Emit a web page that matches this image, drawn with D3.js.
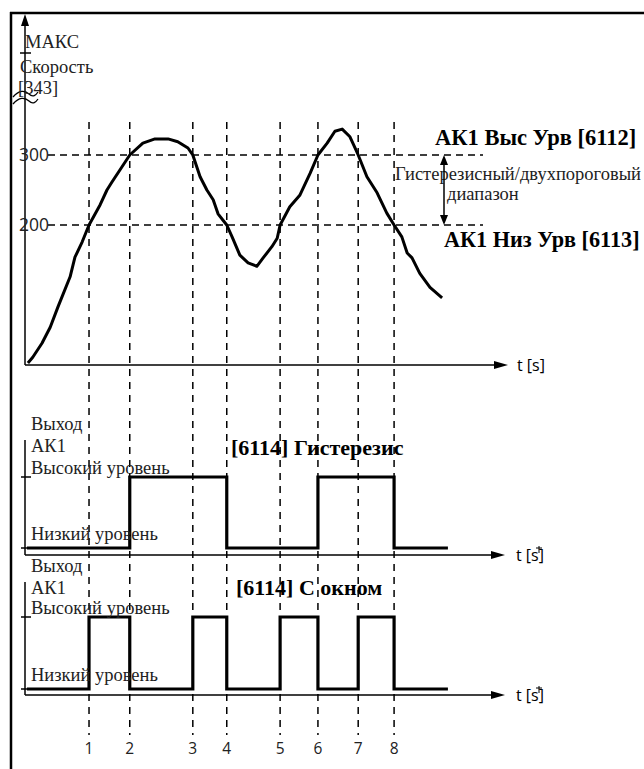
<!DOCTYPE html>
<html>
<head>
<meta charset="utf-8">
<script src="https://cdn.jsdelivr.net/npm/d3@7"></script>
<style>
  html, body { margin: 0; padding: 0; background: #fff; }
  svg { display: block; }
  .serif { font-family: "Liberation Serif", "Times New Roman", "DejaVu Serif", serif; }
  .sans { font-family: "Open Sans", "Noto Sans", sans-serif; }
</style>
</head>
<body>
<svg id="chart" width="644" height="769"></svg>
<script>
// Speed profile: time (s, arbitrary units) and speed
const speedT = [0.6, 1.6, 3.5, 5.2, 6.8, 9.3, 10.3, 11.8, 13.2, 15.5, 16.9, 17.9, 19.6, 21.6,
  24.3, 26.8, 29.5, 31.5, 33.6, 34.6, 36.1, 37.5, 38.8, 39.8, 41.6, 42.7, 44.3, 46.0, 47.8,
  49.1, 50.9, 52.0, 52.6, 54.6, 56.7, 58.8, 60.4, 62.3, 63.9, 65.4, 67.0, 68.0, 68.7, 70.5,
  72.6, 74.6, 76.1, 77.7, 78.8, 79.8, 81.4, 83.5, 86.0];
const speedV = [3, 11, 31, 54, 83, 126, 154, 176, 200, 229, 250, 261, 279, 300,
  317, 323, 323, 319, 310, 300, 269, 250, 236, 216, 200, 183, 157, 146, 141,
  153, 169, 181, 200, 226, 243, 274, 300, 317, 334, 337, 326, 311, 300, 269,
  246, 217, 200, 183, 160, 153, 131, 111, 96];

// Threshold crossings (event markers 1..8)
const eventT = [13.2, 21.6, 34.6, 41.6, 52.6, 60.4, 68.7, 76.1];
const eventLabels = ["1", "2", "3", "4", "5", "6", "7", "8"];

// Speed axis ticks and thresholds
const speedTicks = [200, 300];
const highLevel = 300;   // АК1 Выс Урв [6112]
const lowLevel = 200;    // АК1 Низ Урв [6113]
const maxSpeedLabel = ["МАКС", "Скорость", "[343]"];

// Output states between consecutive boundaries (start, events 1..8, end)
const signalStart = 0.4, signalEnd = 87.2;
const hystState = [0, 0, 1, 1, 0, 0, 1, 1, 0];
const windowState = [0, 1, 0, 1, 0, 1, 0, 1, 0];

const svg = d3.select("#chart");
const x = d3.scaleLinear().domain([0, 100]).range([25, 510]);
const axisEndX = 508;
const ySpeed = d3.scaleLinear().domain([0, 300]).range([365, 155]);
const yHyst = d3.scaleLinear().domain([0, 1]).range([548, 477]);
const yWin = d3.scaleLinear().domain([0, 1]).range([689, 617]);

const labelSize = 18.5;

// Outer frame (top and left edges)
svg.append("line").attr("x1", 10).attr("x2", 644).attr("y1", 13).attr("y2", 13)
  .attr("stroke", "#000").attr("stroke-width", 2.5);
svg.append("line").attr("x1", 11).attr("x2", 11).attr("y1", 12).attr("y2", 769)
  .attr("stroke", "#000").attr("stroke-width", 2.5);

// Vertical dashed event lines
svg.append("g").selectAll("line").data(eventT).join("line")
  .attr("x1", d => x(d)).attr("x2", d => x(d))
  .attr("y1", 122).attr("y2", 735)
  .attr("stroke", "#000").attr("stroke-width", 1.5).attr("stroke-dasharray", "7,6");

// Horizontal dashed threshold lines
svg.append("g").selectAll("line").data(speedTicks).join("line")
  .attr("x1", 48).attr("x2", 483)
  .attr("y1", d => ySpeed(d)).attr("y2", d => ySpeed(d))
  .attr("stroke", "#000").attr("stroke-width", 1.5).attr("stroke-dasharray", "7,5");

// Arrowhead helper (tip at x,y pointing in direction angle degrees)
function arrowHead(g, tx, ty, angle, len, half) {
  g.append("path")
    .attr("d", `M0,0 L${-len},${-half} L${-len},${half} Z`)
    .attr("transform", `translate(${tx},${ty}) rotate(${angle})`)
    .attr("fill", "#000");
}

// Speed chart axes
const speedPanel = svg.append("g");
speedPanel.append("line").attr("x1", x(0)).attr("x2", x(0)).attr("y1", ySpeed(0)).attr("y2", 18)
  .attr("stroke", "#000").attr("stroke-width", 1.5);
arrowHead(speedPanel, x(0), 14, -90, 12, 4);
speedPanel.append("line").attr("x1", x(0)).attr("x2", axisEndX - 10).attr("y1", ySpeed(0)).attr("y2", ySpeed(0))
  .attr("stroke", "#000").attr("stroke-width", 1.5);
arrowHead(speedPanel, axisEndX, ySpeed(0), 0, 14, 4);
speedPanel.append("text").attr("class", "sans").attr("x", 517).attr("y", ySpeed(0) + 6)
  .attr("font-size", 16).text("t [s]");

// Max tick and axis break
speedPanel.append("line").attr("x1", 20).attr("x2", 31).attr("y1", 53).attr("y2", 53)
  .attr("stroke", "#000").attr("stroke-width", 1.5);
speedPanel.append("path").attr("d", "M13,97 C19,90 25,90 29,94 C33,98 36,95 38,92")
  .attr("fill", "none").attr("stroke", "#000").attr("stroke-width", 1.3);
speedPanel.append("path").attr("d", "M13,104 C19,97 25,97 29,101 C33,105 36,102 38,99")
  .attr("fill", "none").attr("stroke", "#000").attr("stroke-width", 1.3);
const maxLabelPos = [[25, 48], [20, 73], [18, 94]];
speedPanel.selectAll("text.maxlab").data(maxSpeedLabel).join("text")
  .attr("class", "serif maxlab")
  .attr("x", (d, i) => maxLabelPos[i][0]).attr("y", (d, i) => maxLabelPos[i][1])
  .attr("font-size", labelSize).attr("fill", "#222").text(d => d);

// Speed tick labels
speedPanel.selectAll("text.tick").data(speedTicks).join("text")
  .attr("class", "sans tick")
  .attr("x", 19).attr("y", d => ySpeed(d) + 6)
  .attr("font-size", 17.5).attr("fill", "#222").text(d => d);

// Speed curve
const speedLine = d3.line().x(d => x(d[0])).y(d => ySpeed(d[1]));
speedPanel.append("path").datum(d3.zip(speedT, speedV))
  .attr("d", speedLine)
  .attr("fill", "none").attr("stroke", "#000").attr("stroke-width", 3)
  .attr("stroke-linejoin", "round");

// Threshold annotations
speedPanel.append("text").attr("class", "serif").attr("x", 435).attr("y", 145)
  .attr("font-size", 22.5).attr("font-weight", "bold").text("АК1 Выс Урв [6112]");
speedPanel.append("text").attr("class", "serif").attr("x", 444).attr("y", 247)
  .attr("font-size", 22.2).attr("font-weight", "bold").text("АК1 Низ Урв [6113]");
speedPanel.append("text").attr("class", "serif").attr("x", 395).attr("y", 180)
  .attr("font-size", labelSize).attr("fill", "#222").text("Гистерезисный/двухпороговый");
speedPanel.append("text").attr("class", "serif").attr("x", 447).attr("y", 200)
  .attr("font-size", labelSize).attr("fill", "#222").text("диапазон");
const bandX = 444;
speedPanel.append("line").attr("x1", bandX).attr("x2", bandX)
  .attr("y1", ySpeed(highLevel) + 8).attr("y2", ySpeed(lowLevel) - 8)
  .attr("stroke", "#000").attr("stroke-width", 1.5);
arrowHead(speedPanel, bandX, ySpeed(highLevel), -90, 10, 4);
arrowHead(speedPanel, bandX, ySpeed(lowLevel), 90, 10, 4);

// Output panels
function drawPanel(yScale, states, axisTop, axisY, textBase, title, titleX, titleY) {
  const g = svg.append("g");
  g.append("line").attr("x1", x(0)).attr("x2", x(0)).attr("y1", axisTop).attr("y2", axisY)
    .attr("stroke", "#000").attr("stroke-width", 1.5);
  [0, 1].forEach(s => g.append("line")
    .attr("x1", 21).attr("x2", 31).attr("y1", yScale(s)).attr("y2", yScale(s))
    .attr("stroke", "#000").attr("stroke-width", 1.5));
  g.append("line").attr("x1", x(0)).attr("x2", axisEndX - 10).attr("y1", axisY).attr("y2", axisY)
    .attr("stroke", "#000").attr("stroke-width", 1.5);
  arrowHead(g, axisEndX - 3, axisY, 0, 14, 4);
  g.append("text").attr("class", "sans").attr("x", 516).attr("y", axisY + 6)
    .attr("font-size", 16).text("t [s]");
  g.append("path").attr("d", `M539,${axisY - 9} L539,${axisY - 2} M536,${axisY - 7} L542,${axisY - 7}`)
    .attr("stroke", "#000").attr("stroke-width", 1);

  const bounds = [signalStart, ...eventT, signalEnd];
  const pts = [];
  states.forEach((s, i) => { pts.push([bounds[i], s]); pts.push([bounds[i + 1], s]); });
  g.append("path").datum(pts)
    .attr("d", d3.line().x(d => x(d[0])).y(d => yScale(d[1])))
    .attr("fill", "none").attr("stroke", "#000").attr("stroke-width", 3.2)
    .attr("stroke-linejoin", "miter");

  const labels = [["Выход", textBase], ["АК1", textBase + 22], ["Высокий уровень", yScale(1) - 3],
    ["Низкий уровень", yScale(0) - 8]];
  g.selectAll("text.lab").data(labels).join("text")
    .attr("class", "serif lab").attr("x", 31).attr("y", d => d[1])
    .attr("font-size", labelSize).attr("fill", "#222").text(d => d[0]);
  g.append("text").attr("class", "serif").attr("x", titleX).attr("y", titleY)
    .attr("font-size", 22).attr("font-weight", "bold").text(title);
}
drawPanel(yHyst, hystState, 440, 555, 430, "[6114] Гистерезис", 231, 455);
drawPanel(yWin, windowState, 582, 695, 572, "[6114] С окном", 236, 595);

// Event numbers
svg.append("g").selectAll("text").data(eventT).join("text")
  .attr("class", "sans").attr("x", d => x(d)).attr("y", 754)
  .attr("text-anchor", "middle").attr("font-size", 15.5).attr("fill", "#222")
  .text((d, i) => eventLabels[i]);
</script>
</body>
</html>
